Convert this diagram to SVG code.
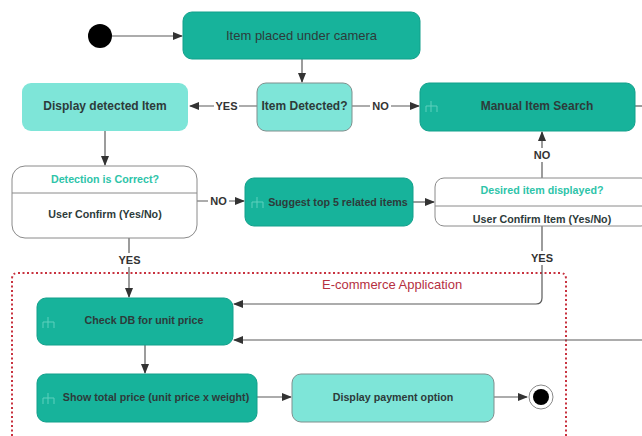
<svg xmlns="http://www.w3.org/2000/svg" width="642" height="436" viewBox="0 0 642 436">
<defs>
<style>
text{font-family:"Liberation Sans",Arial,sans-serif;fill:#2d3b3a;}
.b{font-weight:bold;font-size:10.7px;}
.b12{font-weight:bold;font-size:12px;}
.lbl{font-weight:bold;font-size:11px;fill:#333;}
.teal{fill:#2ec4a9;font-weight:bold;font-size:10.7px;}
.dark{fill:#17b39b;stroke:#12a08b;stroke-width:1;}
.light{fill:#7ee5d8;stroke:#7f8f8d;stroke-width:1;}
.white{fill:#fff;stroke:#8a8a8a;stroke-width:1;}
.conn{fill:none;stroke:#5a5a5a;stroke-width:1.2;}
.rake{fill:none;stroke:#5fd0bd;stroke-width:1;}
</style>
<marker id="ah" markerWidth="10" markerHeight="8" refX="9" refY="4" orient="auto" markerUnits="userSpaceOnUse">
<path d="M0,0 L10,4 L0,8 Z" fill="#333"/>
</marker>
</defs>
<rect width="642" height="436" fill="#fff"/>

<g id="ecommerce-frame">
<path d="M12,445 V279 Q12,273 18,273 H560 Q566,273 566,279 V445" fill="none" stroke="#c8323f" stroke-width="2" stroke-dasharray="2,2.5"/>
<text x="322" y="289" style="font-size:13px;fill:#b5303f;">E-commerce Application</text>
</g>

<g id="connectors">
<path class="conn" d="M112,36 H182" marker-end="url(#ah)"/>
<path class="conn" d="M302,59 V82" marker-end="url(#ah)"/>
<path class="conn" d="M257,106 H190" marker-end="url(#ah)"/>
<path class="conn" d="M352,106 H419" marker-end="url(#ah)"/>
<path class="conn" d="M635,106 H642"/>
<path class="conn" d="M105,131 V165" marker-end="url(#ah)"/>
<path class="conn" d="M197,201 H244" marker-end="url(#ah)"/>
<path class="conn" d="M413,202 H434" marker-end="url(#ah)"/>
<path class="conn" d="M542,178 V132" marker-end="url(#ah)"/>
<path class="conn" d="M542,226 V298 Q542,304 536,304 H234" marker-end="url(#ah)"/>
<path class="conn" d="M642,340 H234" marker-end="url(#ah)"/>
<path class="conn" d="M129,238 V297" marker-end="url(#ah)"/>
<path class="conn" d="M145,345 V373" marker-end="url(#ah)"/>
<path class="conn" d="M257,397 H291" marker-end="url(#ah)"/>
<path class="conn" d="M494,397 H527" marker-end="url(#ah)"/>
<rect x="214" y="99" width="25" height="14" fill="#fff"/>
<text class="lbl" x="226.5" y="110" text-anchor="middle">YES</text>
<rect x="370" y="99" width="21" height="14" fill="#fff"/>
<text class="lbl" x="380.5" y="110" text-anchor="middle">NO</text>
<rect x="208" y="194" width="21" height="14" fill="#fff"/>
<text class="lbl" x="218.5" y="205" text-anchor="middle">NO</text>
<rect x="532" y="148" width="21" height="14" fill="#fff"/>
<text class="lbl" x="542" y="159" text-anchor="middle">NO</text>
<rect x="530" y="251" width="25" height="14" fill="#fff"/>
<text class="lbl" x="542" y="262" text-anchor="middle">YES</text>
<rect x="117" y="253" width="25" height="14" fill="#fff"/>
<text class="lbl" x="129.5" y="264" text-anchor="middle">YES</text>
</g>

<g id="start">
<circle cx="100" cy="36" r="12" fill="#000"/>
</g>

<g id="item-placed">
<rect class="dark" x="183" y="12" width="237" height="47" rx="9"/>
<text x="301.5" y="40" text-anchor="middle" style="font-size:13px;">Item placed under camera</text>
</g>

<g id="item-detected">
<rect class="light" x="257" y="83" width="95" height="48" rx="9"/>
<text class="b12" x="304.5" y="110" text-anchor="middle">Item Detected?</text>
</g>

<g id="display-detected">
<rect x="22" y="83" width="166" height="48" rx="9" fill="#7ee5d8"/>
<text class="b12" x="105" y="110" text-anchor="middle">Display detected Item</text>
</g>

<g id="manual-search">
<rect class="dark" x="420" y="83" width="215" height="48" rx="9"/>
<path class="rake" d="M431,101 V112 M426,106 H437 M426,106 V112 M437,106 V112"/>
<text class="b12" x="537" y="110" text-anchor="middle">Manual Item Search</text>
</g>

<g id="detection-correct">
<rect class="white" x="12" y="166" width="185" height="72" rx="13"/>
<line x1="12" y1="193" x2="197" y2="193" stroke="#8a8a8a" stroke-width="1"/>
<text class="teal" x="105" y="183" text-anchor="middle">Detection is Correct?</text>
<text class="b" x="105" y="218" text-anchor="middle">User Confirm (Yes/No)</text>
</g>

<g id="suggest-top5">
<rect class="dark" x="245" y="178" width="168" height="48" rx="9"/>
<path class="rake" d="M257,197 V208 M252,202 H263 M252,202 V208 M263,202 V208"/>
<text class="b" x="338" y="206" text-anchor="middle">Suggest top 5 related items</text>
</g>

<g id="desired-item">
<rect class="white" x="435" y="178" width="215" height="48" rx="9"/>
<line x1="435" y1="206" x2="642" y2="206" stroke="#8a8a8a" stroke-width="1"/>
<text class="teal" x="542" y="194" text-anchor="middle">Desired item displayed?</text>
<text class="b" x="542" y="223" text-anchor="middle">User Confirm Item (Yes/No)</text>
</g>

<g id="check-db">
<rect class="dark" x="37" y="298" width="196" height="47" rx="9"/>
<path class="rake" d="M48,317 V328 M43,322 H54 M43,322 V328 M54,322 V328"/>
<text class="b" x="144" y="324" text-anchor="middle">Check DB for unit price</text>
</g>

<g id="show-total">
<rect class="dark" x="37" y="374" width="220" height="48" rx="9"/>
<path class="rake" d="M48,393 V404 M43,398 H54 M43,398 V404 M54,398 V404"/>
<text class="b" x="156" y="401" text-anchor="middle">Show total price (unit price x weight)</text>
</g>

<g id="display-payment">
<rect class="light" x="292" y="374" width="202" height="48" rx="9"/>
<text class="b" x="393" y="401" text-anchor="middle">Display payment option</text>
</g>

<g id="end">
<circle cx="541" cy="397" r="12" fill="#fff" stroke="#8a8a8a" stroke-width="1"/>
<circle cx="541" cy="397" r="8" fill="#000"/>
</g>
</svg>
